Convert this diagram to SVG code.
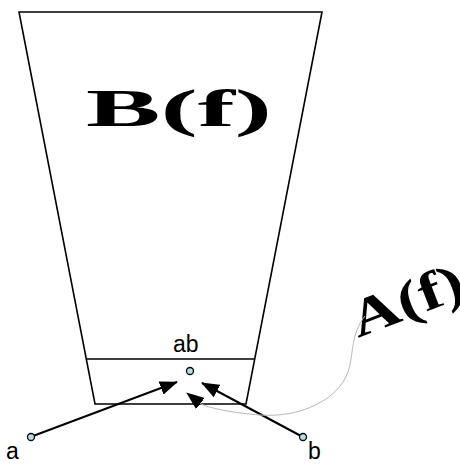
<svg xmlns="http://www.w3.org/2000/svg" width="460" height="464" viewBox="0 0 460 464">
<style>
.edge{fill:none;stroke:#000;stroke-width:1.6}
.arrow{fill:none;stroke:#000;stroke-width:2}
.dot{fill:#b4e0e0;stroke:#000;stroke-width:1.3}
.lbl{font-family:"Liberation Sans",Arial,sans-serif;font-size:23px;fill:#000}
.big{font-family:"Liberation Serif","Times New Roman",serif;font-weight:bold;font-size:53px;fill:#000}
</style>
<defs>
<marker id="ah" markerUnits="userSpaceOnUse" markerWidth="18" markerHeight="14" viewBox="0 0 18 14" refX="17" refY="7" orient="auto">
<path d="M0,0 L18,7 L0,14 Z" fill="#000"/>
</marker>
</defs>
<g id="funnel">
<path class="edge" d="M19,12 L322,12 L246,404 L95,404 Z"/>
<line class="edge" x1="86.5" y1="359" x2="254.5" y2="359"/>
</g>
<g id="Bf">
<text class="big" x="86" y="126" textLength="186" lengthAdjust="spacingAndGlyphs">B(f)</text>
</g>
<g id="Af">
<text class="big" x="358" y="338" font-size="56" transform="rotate(-21 358 338)" textLength="118" lengthAdjust="spacingAndGlyphs">A(f)</text>
</g>
<g id="connectors">
<line class="arrow" x1="33" y1="436" x2="177" y2="382" marker-end="url(#ah)"/>
<line class="arrow" x1="301" y1="436" x2="202" y2="383" marker-end="url(#ah)"/>
<path d="M365,316 C350,335 354,355 348,372 C338,400 300,418 260,415 C235,413 212,409 201,404 L187,393" fill="none" stroke="#b8b8b8" stroke-width="1" marker-end="url(#ah)"/>
</g>
<g id="node-ab">
<circle class="dot" cx="190" cy="371" r="3.5"/>
<text class="lbl" x="173" y="352">ab</text>
</g>
<g id="node-a">
<circle class="dot" cx="31" cy="437" r="3.5"/>
<text class="lbl" x="6" y="459">a</text>
</g>
<g id="node-b">
<circle class="dot" cx="303" cy="437" r="3.5"/>
<text class="lbl" x="308" y="459">b</text>
</g>
</svg>
